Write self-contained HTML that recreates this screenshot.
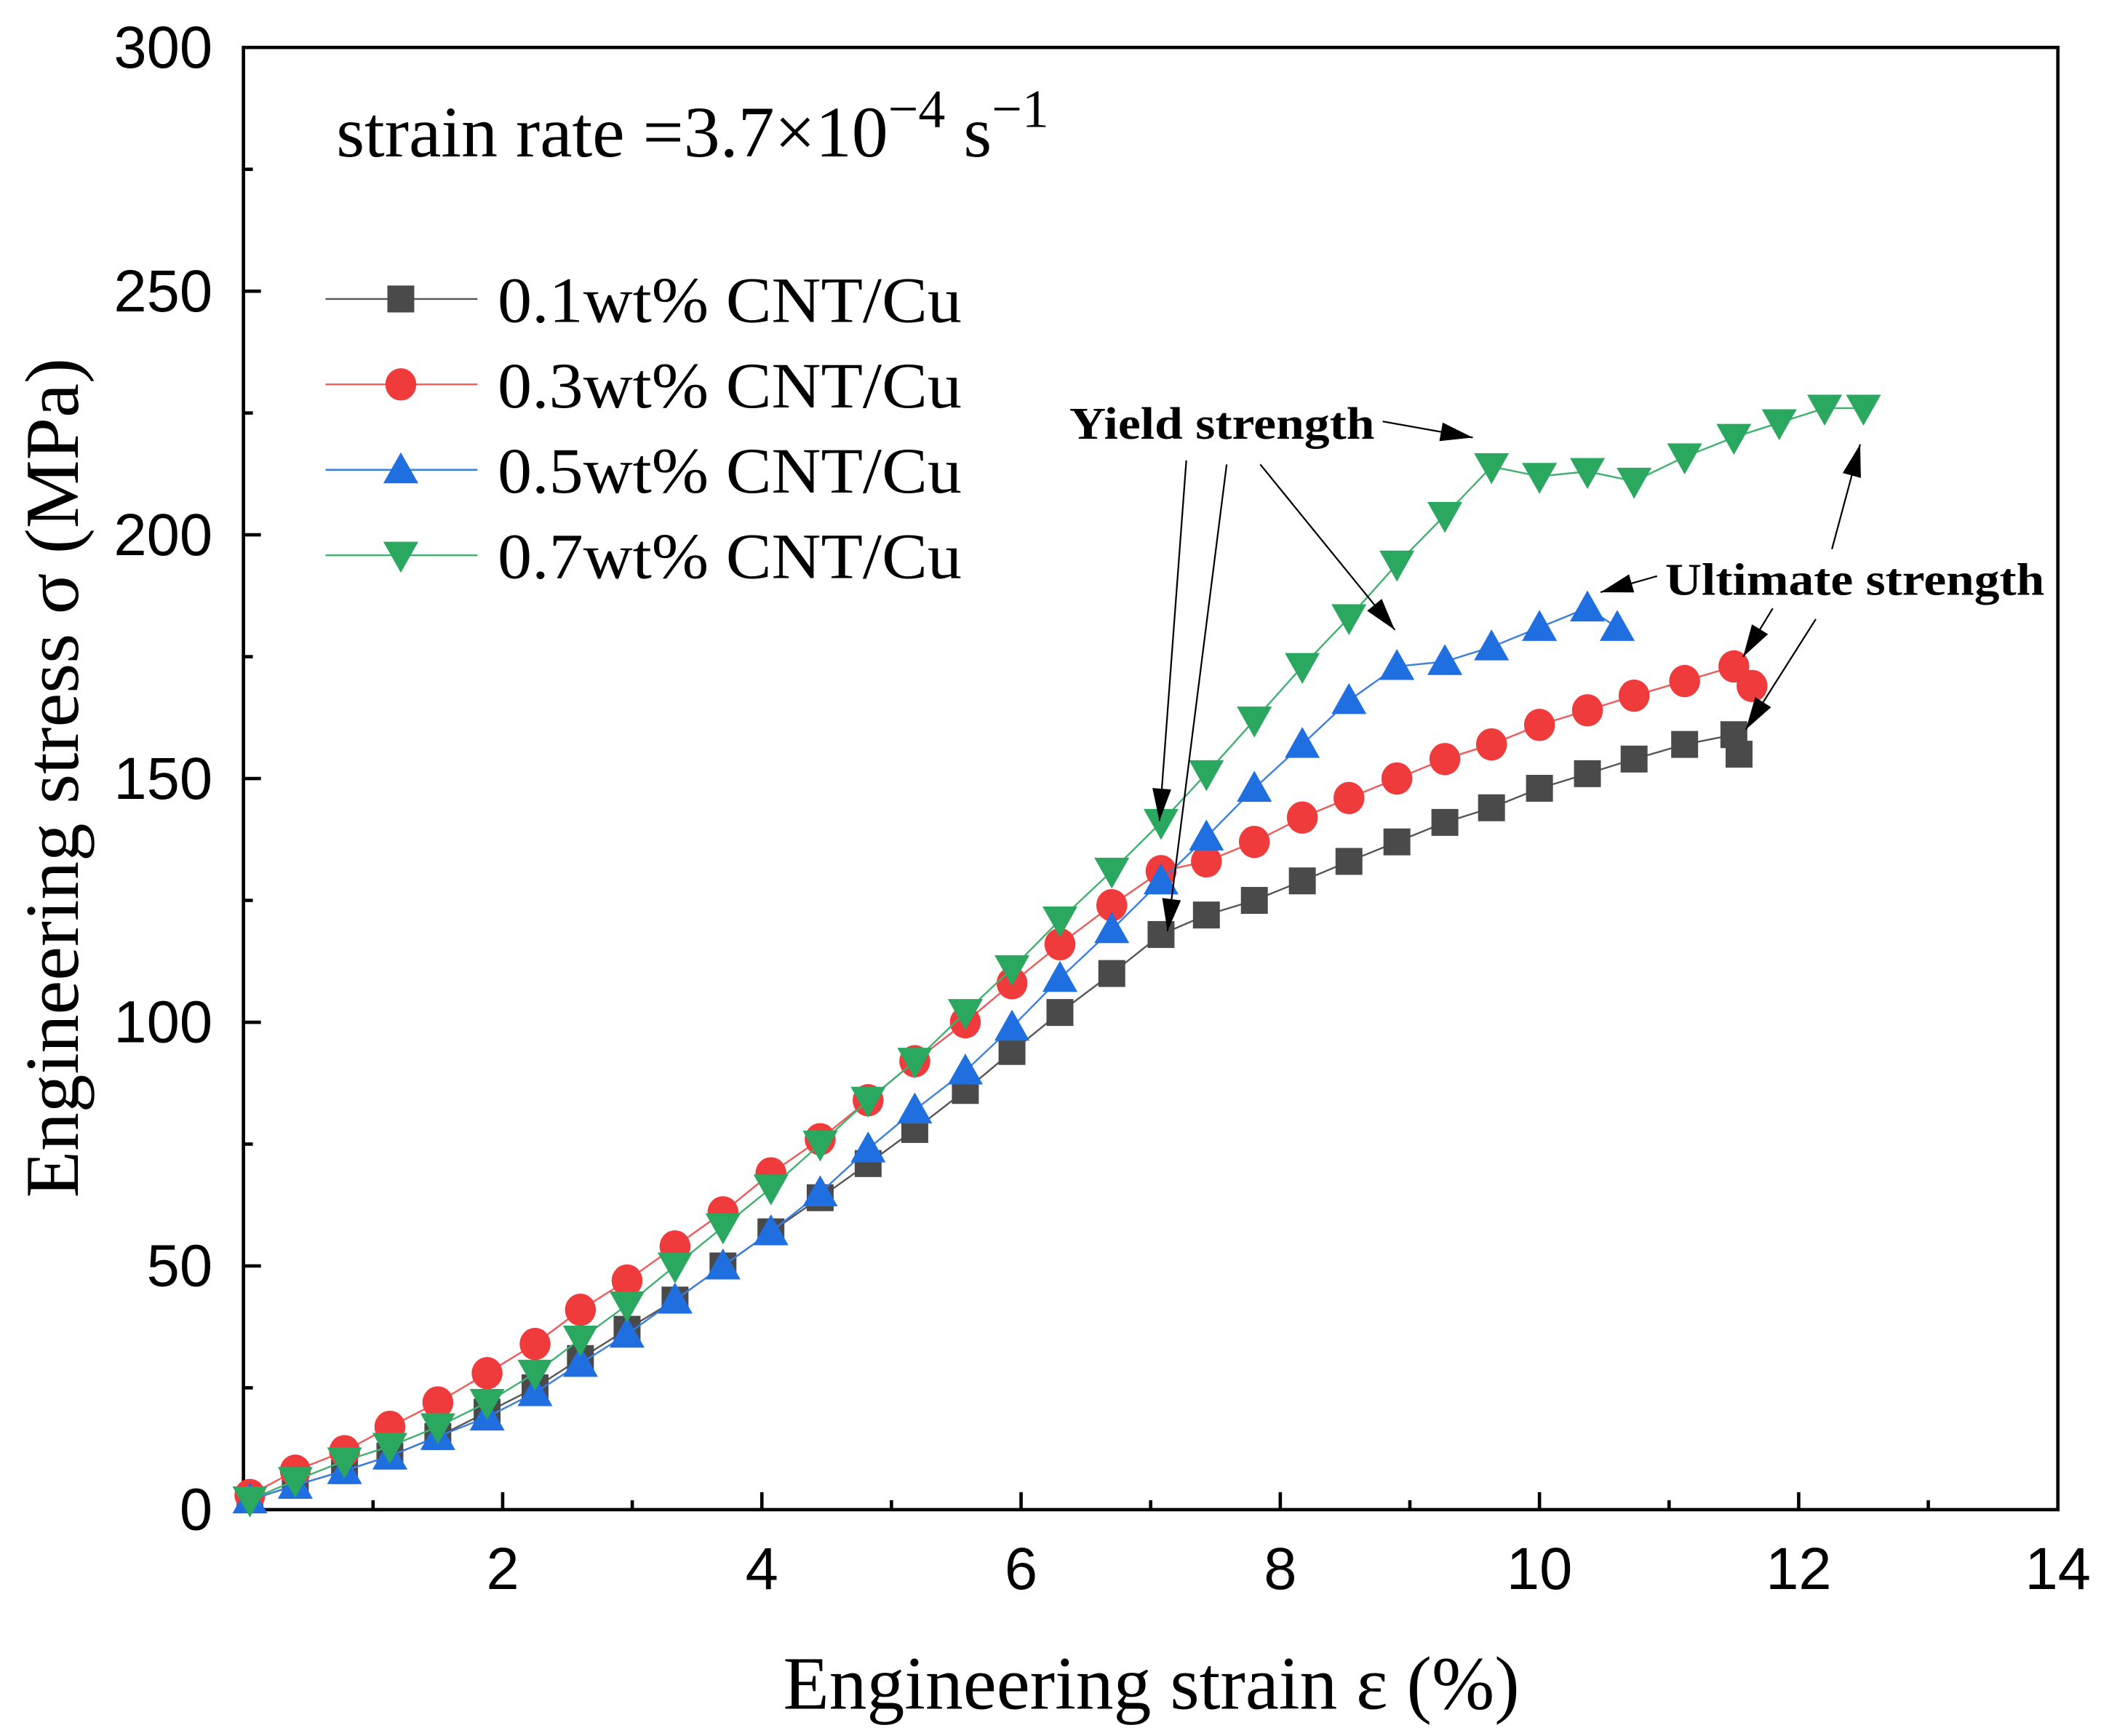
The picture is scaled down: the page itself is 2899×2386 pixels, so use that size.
<!DOCTYPE html>
<html><head><meta charset="utf-8"><style>html,body{margin:0;padding:0;background:#fff}svg{display:block}</style></head>
<body>
<svg id="chart" xmlns="http://www.w3.org/2000/svg" width="2899" height="2386" viewBox="0 0 1568 1290">
<rect width="1568" height="1290" fill="#fff"/>
<g id="axes"></g>
<g id="series"></g>
<g id="legend"></g>
<g id="annot"></g>
</svg>
<script>
const strainA = [0.05,0.4,0.78,1.13,1.5,1.88,2.25,2.6,2.96,3.33,3.7,4.07,4.45,4.82,5.18,5.57,5.93,6.3,6.7,7.08,7.43,7.8,8.17,8.53,8.9,9.27,9.63,10,10.37,10.73,11.12,11.5,11.54];
const stressA = [2,5,8,11,15,20,25,31,37,43,50,57,64,71,78,86,94,102,110,118,122,125,129,133,137,141,144,148,151,154,157,159,155];
const strainB = [0.05,0.4,0.78,1.13,1.5,1.88,2.25,2.6,2.96,3.33,3.7,4.07,4.45,4.82,5.18,5.57,5.93,6.3,6.7,7.08,7.43,7.8,8.17,8.53,8.9,9.27,9.63,10,10.37,10.73,11.12,11.5,11.64];
const stressB = [3,8,12,17,22,28,34,41,47,54,61,69,76,84,92,100,108,116,124,131,133,137,142,146,150,154,157,161,164,167,170,173,169];
const strainC = [0.05,0.4,0.78,1.13,1.5,1.88,2.25,2.6,2.96,3.33,3.7,4.07,4.45,4.82,5.18,5.57,5.93,6.3,6.7,7.08,7.43,7.8,8.17,8.53,8.9,9.27,9.63,10,10.37,10.6];
const stressC = [2,5,8,11,15,19,24,30,36,43,50,57,65,74,82,90,99,109,119,129,138,148,157,166,173,174,177,181,185,181];
const strainD = [0.05,0.4,0.78,1.13,1.5,1.88,2.25,2.6,2.96,3.33,3.7,4.07,4.45,4.82,5.18,5.57,5.93,6.3,6.7,7.08,7.43,7.8,8.17,8.53,8.9,9.27,9.63,10,10.37,10.73,11.12,11.5,11.85,12.2,12.5];
const stressD = [2,6,10,13,17,22,28,35,42,50,58,66,75,84,92,102,111,121,131,141,151,162,173,183,194,204,214,212,213,211,216,220,223,226,226];
const xTicks = [2,4,6,8,10,12,14];
const yTicks = [0,50,100,150,200,250,300];
const legendLabels = ["0.1wt% CNT/Cu","0.3wt% CNT/Cu","0.5wt% CNT/Cu","0.7wt% CNT/Cu"];

const NS="http://www.w3.org/2000/svg";
const X0=181,X1=1530,Y0=1122,Y1=35;
const xs=v=>X0+(X1-X0)*v/14, ys=v=>Y0-(Y0-Y1)*v/300;
function mk(tag,attrs,parent,txt){const e=document.createElementNS(NS,tag);for(const k in attrs)e.setAttribute(k,attrs[k]);if(txt!==undefined)e.textContent=txt;parent.appendChild(e);return e;}
const axes=document.getElementById('axes');
const frame=mk('rect',{x:X0,y:Y1,width:X1-X0,height:Y0-Y1,fill:'none',stroke:'#000','stroke-width':2.5},axes);


for(let v=1;v<14;v++){const x=xs(v);const l=mk('line',{x1:x,x2:x,y1:Y0,y2:Y0-(v%2?7:13),stroke:'#000','stroke-width':2.5},axes);

}
for(let v=25;v<300;v+=25){const y=ys(v);const l=mk('line',{x1:X0,x2:X0+(v%50?7:13),y1:y,y2:y,stroke:'#000','stroke-width':2.5},axes);

}
xTicks.forEach(v=>{const t=mk('text',{x:xs(v),y:1181,'text-anchor':'middle','font-family':'Liberation Sans, sans-serif','font-size':44},axes,String(v));

});
yTicks.forEach(v=>{const t=mk('text',{x:158,y:ys(v)+15,'text-anchor':'end','font-family':'Liberation Sans, sans-serif','font-size':44},axes,String(v));

});
const xt=mk('text',{x:856,y:1270,'text-anchor':'middle','font-family':'Liberation Serif, serif','font-size':56},axes,'Engineering strain ε (%)');


const yt=mk('text',{x:0,y:0,'text-anchor':'middle','font-family':'Liberation Serif, serif','font-size':57,transform:'translate(58,578) rotate(-90)'},axes,'Engineering stress σ (MPa)');


const sr=mk('text',{x:250,y:116,'font-family':'Liberation Serif, serif','font-size':54},axes);


sr.innerHTML='strain rate =3.7×10<tspan dy="-22" font-size="40">−4</tspan><tspan dy="22"> s</tspan><tspan dy="-22" font-size="40">−1</tspan>';

const colors=['#4a4a4a','#ef3b3b','#1f6fe0','#2aa860'];
const lineColors=['#555','#ef5a5a','#3a7ee0','#40b070'];
const shapes=['square','circle','up','down'];
function marker(g,shape,x,y,c){let e;
 if(shape==='square')e=mk('rect',{x:x-10,y:y-10,width:20,height:20,fill:c},g);
 else if(shape==='circle')e=mk('ellipse',{cx:x,cy:y,rx:11.5,ry:12,fill:c},g);
 else if(shape==='up')e=mk('polygon',{points:`${x},${y-13} ${x-13},${y+10} ${x+13},${y+10}`,fill:c},g);
 else e=mk('polygon',{points:`${x},${y+13} ${x-13},${y-10} ${x+13},${y-10}`,fill:c},g);
 return e;}
const seriesG=document.getElementById('series');
const data=[[strainA,stressA],[strainB,stressB],[strainC,stressC],[strainD,stressD]];
const names=['series-0.1wt','series-0.3wt','series-0.5wt','series-0.7wt'];
data.forEach((d,i)=>{const g=mk('g',{},seriesG);
 
 
 const pts=d[0].map((v,j)=>xs(v)+','+ys(d[1][j])).join(' ');
 const pl=mk('polyline',{points:pts,fill:'none',stroke:lineColors[i],'stroke-width':1.3},g);
 
 
 d[0].forEach((v,j)=>{const m=marker(g,shapes[i],xs(v),ys(d[1][j]),colors[i]);
  
  });
});
const lg=document.getElementById('legend');


legendLabels.forEach((lab,i)=>{const y=222+i*63.5;const g=mk('g',{},lg);
 
 
 mk('line',{x1:242,x2:355,y1:y,y2:y,stroke:lineColors[i],'stroke-width':1.3},g);
 marker(g,shapes[i],298,y,colors[i]);
 mk('text',{x:370,y:y+17,'font-family':'Liberation Serif, serif','font-size':48,'textLength':345,'lengthAdjust':'spacingAndGlyphs'},g,lab);
});
const an=document.getElementById('annot');
function arrow(x1,y1,x2,y2){const l=mk('line',{x1,y1,x2,y2,stroke:'#000','stroke-width':1.2},an);
 const h=mk('polygon',{},an);const a=Math.atan2(y2-y1,x2-x1),L=24,W=7;
 const bx=x2-L*Math.cos(a),by=y2-L*Math.sin(a);
 h.setAttribute('points',`${x2},${y2} ${bx-W*Math.sin(a)},${by+W*Math.cos(a)} ${bx+W*Math.sin(a)},${by-W*Math.cos(a)}`);
 h.setAttribute('fill','#000');
 
 }
const ys1=mk('text',{x:795,y:326,'font-family':'Liberation Serif, serif','font-size':34,'font-weight':'bold','textLength':227,'lengthAdjust':'spacingAndGlyphs'},an,'Yield strength');


const us1=mk('text',{x:1238,y:442,'font-family':'Liberation Serif, serif','font-size':34,'font-weight':'bold','textLength':282,'lengthAdjust':'spacingAndGlyphs'},an,'Ultimate strength');


arrow(1028,313,1095,325);
arrow(882,342,862,610);
arrow(912,345,868,692);
arrow(937,345,1037,468);
arrow(1232,428,1190,440);
arrow(1318,452,1296,488);
arrow(1350,460,1298,542);
arrow(1362,408,1383,330);
</script>
</body></html>
